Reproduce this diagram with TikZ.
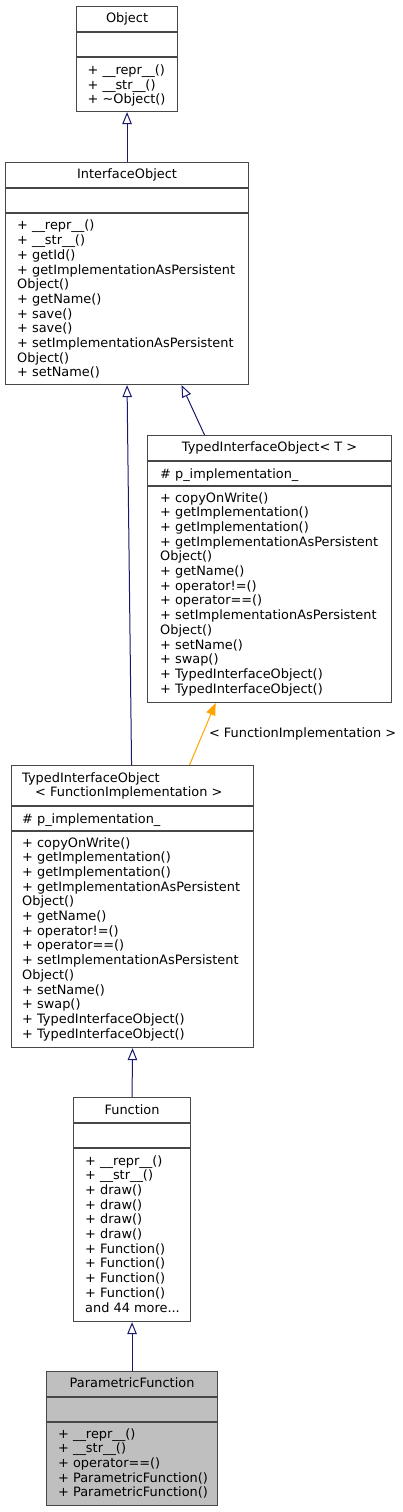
\documentclass[tikz,border=0pt]{standalone}
\usepackage{fontspec}
\setmainfont{DejaVu Sans}
\usetikzlibrary{arrows.meta}

\definecolor{midnight}{RGB}{25,25,112}
\definecolor{tmplorange}{RGB}{255,165,0}

\tikzset{
  classbox/.style={draw=black!72,line width=1.1pt,fill=white,inner sep=0pt,anchor=north west},
  selfbox/.style={classbox,fill=black!25},
  classsep/.style={draw=black!72,line width=1.1pt},
  title/.style={inner sep=0pt,anchor=center},
  members/.style={inner sep=0pt,anchor=north west,align=left},
  inherit/.style={draw=midnight,line width=1pt,-{Triangle[open,length=12pt,width=9.5pt]}},
  templ/.style={draw=tmplorange,line width=1pt,-{Triangle[length=12pt,width=9.5pt]}},
}

\begin{document}
\begin{tikzpicture}[x=1pt,y=-1pt,font=\fontsize{12.9}{14.7}\selectfont]
  \useasboundingbox (0,0) rectangle (403,1512);
  % Object
  \node[classbox,minimum width=101pt,minimum height=105pt] (obj) at (76,6) {};
  \draw[classsep] ([yshift=-26pt]obj.north west) -- ([yshift=-26pt]obj.north east);
  \draw[classsep] ([yshift=-51pt]obj.north west) -- ([yshift=-51pt]obj.north east);
  \node[title] (objname) at ([yshift=-13pt]obj.north) {Object};
  \node[members] (objops) at ([shift={(11.5pt,-58.5pt)}]obj.north west)
    {+ \_\_repr\_\_()\\+ \_\_str\_\_()\\+ \textasciitilde Object()};
  % InterfaceObject
  \node[classbox,minimum width=243pt,minimum height=222pt] (io) at (5,162) {};
  \draw[classsep] ([yshift=-26pt]io.north west) -- ([yshift=-26pt]io.north east);
  \draw[classsep] ([yshift=-51pt]io.north west) -- ([yshift=-51pt]io.north east);
  \node[title] (ioname) at ([yshift=-13pt]io.north) {InterfaceObject};
  \node[members] (ioops) at ([shift={(12pt,-58pt)}]io.north west)
    {+ \_\_repr\_\_()\\+ \_\_str\_\_()\\+ getId()\\+ getImplementationAsPersistent\\Object()\\%
     + getName()\\+ save()\\+ save()\\+ setImplementationAsPersistent\\Object()\\+ setName()};
  % TypedInterfaceObject< T >
  \node[classbox,minimum width=244pt,minimum height=267pt] (tiot) at (147,435) {};
  \draw[classsep] ([yshift=-26pt]tiot.north west) -- ([yshift=-26pt]tiot.north east);
  \draw[classsep] ([yshift=-51pt]tiot.north west) -- ([yshift=-51pt]tiot.north east);
  \node[title] (tiotname) at ([yshift=-12.5pt]tiot.north) {TypedInterfaceObject< T >};
  \node[members] (tiotattr) at ([shift={(13pt,-33pt)}]tiot.north west) {\# p\_implementation\_};
  \node[members] (tiotops) at ([shift={(13pt,-57pt)}]tiot.north west)
    {+ copyOnWrite()\\+ getImplementation()\\+ getImplementation()\\+ getImplementationAsPersistent\\Object()\\%
     + getName()\\+ operator!=()\\+ operator==()\\+ setImplementationAsPersistent\\Object()\\%
     + setName()\\+ swap()\\+ TypedInterfaceObject()\\+ TypedInterfaceObject()};
  % TypedInterfaceObject< FunctionImplementation >
  \node[classbox,minimum width=242pt,minimum height=282pt] (tio) at (11,765) {};
  \draw[classsep] ([yshift=-41pt]tio.north west) -- ([yshift=-41pt]tio.north east);
  \draw[classsep] ([yshift=-66pt]tio.north west) -- ([yshift=-66pt]tio.north east);
  \node[members] (tioname) at ([shift={(11pt,-7pt)}]tio.north west)
    {TypedInterfaceObject\\\hspace*{13pt}< FunctionImplementation >};
  \node[members] (tioattr) at ([shift={(11pt,-48pt)}]tio.north west) {\# p\_implementation\_};
  \node[members] (tioops) at ([shift={(11pt,-72pt)}]tio.north west)
    {+ copyOnWrite()\\+ getImplementation()\\+ getImplementation()\\+ getImplementationAsPersistent\\Object()\\%
     + getName()\\+ operator!=()\\+ operator==()\\+ setImplementationAsPersistent\\Object()\\%
     + setName()\\+ swap()\\+ TypedInterfaceObject()\\+ TypedInterfaceObject()};
  % Function
  \node[classbox,minimum width=117pt,minimum height=224pt] (fun) at (73,1097) {};
  \draw[classsep] ([yshift=-26pt]fun.north west) -- ([yshift=-26pt]fun.north east);
  \draw[classsep] ([yshift=-51pt]fun.north west) -- ([yshift=-51pt]fun.north east);
  \node[title] (funname) at ([yshift=-13pt]fun.north) {Function};
  \node[members] (funops) at ([shift={(12pt,-58pt)}]fun.north west)
    {+ \_\_repr\_\_()\\+ \_\_str\_\_()\\+ draw()\\+ draw()\\+ draw()\\+ draw()\\%
     + Function()\\+ Function()\\+ Function()\\+ Function()\\and 44 more...};
  % ParametricFunction
  \node[selfbox,minimum width=171pt,minimum height=134pt] (param) at (46,1371) {};
  \draw[classsep] ([yshift=-26pt]param.north west) -- ([yshift=-26pt]param.north east);
  \draw[classsep] ([yshift=-51pt]param.north west) -- ([yshift=-51pt]param.north east);
  \node[title] (paramname) at ([yshift=-12pt]param.north) {ParametricFunction};
  \node[members] (paramops) at ([shift={(12pt,-57pt)}]param.north west)
    {+ \_\_repr\_\_()\\+ \_\_str\_\_()\\+ operator==()\\+ ParametricFunction()\\+ ParametricFunction()};
  % inheritance
  \draw[inherit] (io.north) -- (obj.south);
  \draw[inherit] ([xshift=-65pt]tiot.north) -- ([xshift=54.5pt]io.south);
  \draw[inherit] ([xshift=-1pt]tio.north) -- (io.south);
  \draw[templ] ([xshift=57pt]tio.north) -- ([xshift=-54pt]tiot.south)
    node[midway,anchor=west,xshift=6pt,inner sep=0pt] (tmplarg) {< FunctionImplementation >};
  \draw[inherit] (fun.north) -- (tio.south);
  \draw[inherit] (param.north) -- (fun.south);
\end{tikzpicture}
\end{document}
